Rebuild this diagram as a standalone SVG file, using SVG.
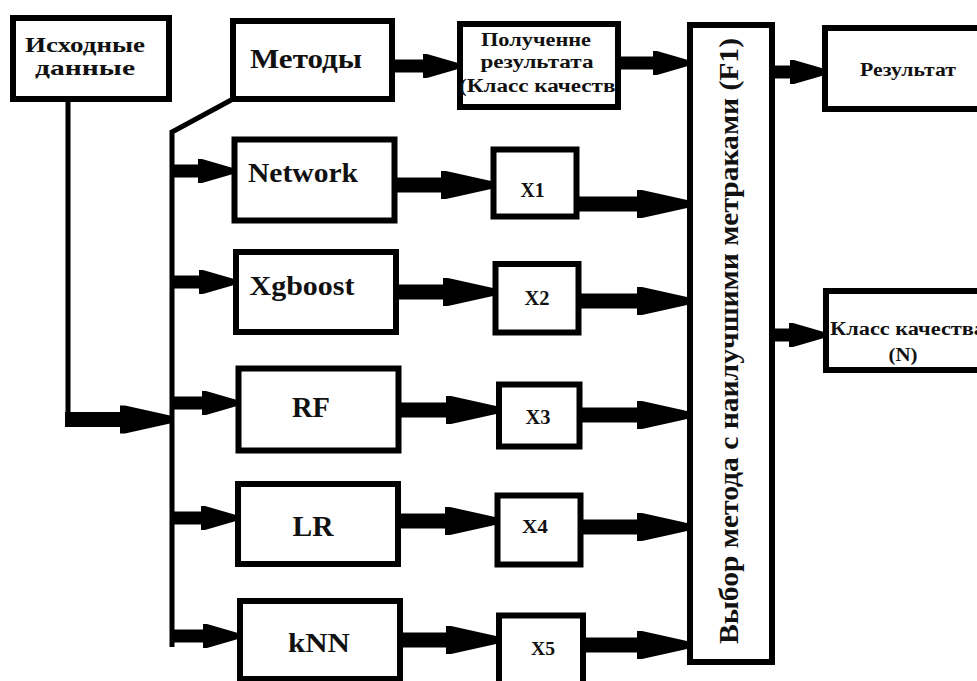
<svg xmlns="http://www.w3.org/2000/svg" width="977" height="681" viewBox="0 0 977 681">
<style>
.box{fill:#fff;stroke:#000;stroke-width:6}
.t{font-family:"Liberation Serif","DejaVu Serif","Times New Roman",serif;font-weight:bold;fill:#111}
.wire{stroke:#000;fill:none;stroke-width:5}
.ab{stroke:#000;stroke-width:15;fill:none;marker-end:url(#hb)}
.as{stroke:#000;stroke-width:13;fill:none;marker-end:url(#hs)}
</style>
<defs>
<marker id="hb" markerUnits="userSpaceOnUse" markerWidth="50" markerHeight="30" viewBox="0 -15 50 30" refX="0" refY="0" orient="auto">
<path d="M0,-14 L5,-14 L50,-4 L50,4 L5,14 L0,14 Z" fill="#000"/>
</marker>
<marker id="hs" markerUnits="userSpaceOnUse" markerWidth="35" markerHeight="26" viewBox="0 -13 35 26" refX="0" refY="0" orient="auto">
<path d="M0,-12 L4,-12 L35,-3 L35,3 L4,12 L0,12 Z" fill="#000"/>
</marker>
<clipPath id="clipP"><rect x="460" y="24" width="156" height="83"/></clipPath>
</defs>
<rect width="977" height="681" fill="#fff"/>

<g id="connectors">
<path class="wire" d="M68,101 V413"/>
<path class="wire" d="M233,99 L172,132 V647"/>
<line class="ab" x1="65" y1="419.5" x2="120" y2="419.5"/>
<line class="as" x1="172" y1="171" x2="198" y2="171"/>
<line class="as" x1="172" y1="282" x2="199" y2="282"/>
<line class="as" x1="172" y1="403" x2="202" y2="403"/>
<line class="as" x1="172" y1="518" x2="201" y2="518"/>
<line class="as" x1="172" y1="636" x2="203" y2="636"/>
<line class="as" x1="393" y1="66" x2="423" y2="66"/>
<line class="as" x1="619" y1="63" x2="653" y2="63"/>
<line class="as" x1="773" y1="72" x2="790" y2="72"/>
<line class="as" x1="773" y1="335" x2="789" y2="335"/>
<line class="ab" x1="395" y1="185" x2="441" y2="185"/>
<line class="ab" x1="397" y1="292" x2="443" y2="292"/>
<line class="ab" x1="399" y1="410" x2="446" y2="410"/>
<line class="ab" x1="399" y1="521" x2="445" y2="521"/>
<line class="ab" x1="401" y1="640" x2="446" y2="640"/>
<line class="ab" x1="577" y1="204" x2="637" y2="204"/>
<line class="ab" x1="579" y1="301" x2="637" y2="301"/>
<line class="ab" x1="580" y1="415" x2="637" y2="415"/>
<line class="ab" x1="581" y1="527" x2="637" y2="527"/>
<line class="ab" x1="583" y1="645" x2="637" y2="645"/>
</g>

<g id="source">
<rect class="box" x="13" y="18" width="156" height="81"/>
<text class="t" x="85" y="52" font-size="22" text-anchor="middle" textLength="120" lengthAdjust="spacingAndGlyphs">Исходные</text>
<text class="t" x="85" y="75" font-size="22" text-anchor="middle" textLength="100" lengthAdjust="spacingAndGlyphs">данные</text>
</g>

<g id="methods">
<rect class="box" x="233" y="21" width="159" height="78"/>
<text class="t" x="306" y="68" font-size="27" text-anchor="middle" textLength="112" lengthAdjust="spacingAndGlyphs">Методы</text>
</g>

<g id="getresult">
<rect class="box" x="460" y="24" width="158" height="83"/>
<text class="t" x="536" y="46" font-size="18" text-anchor="middle" textLength="110" lengthAdjust="spacingAndGlyphs">Полученне</text>
<text class="t" x="537" y="68" font-size="18" text-anchor="middle" textLength="113" lengthAdjust="spacingAndGlyphs">результата</text>
<text class="t" x="459" y="92" font-size="18" textLength="168" lengthAdjust="spacingAndGlyphs" clip-path="url(#clipP)">(Класс качества</text>
</g>

<g id="network">
<rect class="box" x="234.5" y="139.5" width="160" height="81"/>
<text class="t" x="303" y="182" font-size="28" text-anchor="middle" textLength="110" lengthAdjust="spacingAndGlyphs">Network</text>
</g>
<g id="xgboost">
<rect class="box" x="236" y="252" width="160" height="80"/>
<text class="t" x="302" y="295" font-size="28" text-anchor="middle" textLength="105" lengthAdjust="spacingAndGlyphs">Xgboost</text>
</g>
<g id="rf">
<rect class="box" x="238.5" y="368.5" width="160" height="82"/>
<text class="t" x="311" y="417" font-size="29" text-anchor="middle" textLength="38" lengthAdjust="spacingAndGlyphs">RF</text>
</g>
<g id="lr">
<rect class="box" x="238" y="484" width="160" height="80"/>
<text class="t" x="313" y="536" font-size="29" text-anchor="middle" textLength="41" lengthAdjust="spacingAndGlyphs">LR</text>
</g>
<g id="knn">
<rect class="box" x="240" y="601" width="160" height="78"/>
<text class="t" x="319" y="652" font-size="28" text-anchor="middle" textLength="62" lengthAdjust="spacingAndGlyphs">kNN</text>
</g>

<g id="x1">
<rect class="box" x="493.5" y="149.5" width="83" height="67"/>
<text class="t" x="532.5" y="197" font-size="20" text-anchor="middle" textLength="24" lengthAdjust="spacingAndGlyphs">X1</text>
</g>
<g id="x2">
<rect class="box" x="495.5" y="264" width="83" height="68.5"/>
<text class="t" x="537" y="305" font-size="20" text-anchor="middle" textLength="25" lengthAdjust="spacingAndGlyphs">X2</text>
</g>
<g id="x3">
<rect class="box" x="499" y="384.5" width="80.5" height="62"/>
<text class="t" x="538" y="424" font-size="20" text-anchor="middle" textLength="25" lengthAdjust="spacingAndGlyphs">X3</text>
</g>
<g id="x4">
<rect class="box" x="497.5" y="495.5" width="83" height="69"/>
<text class="t" x="535" y="533" font-size="19" text-anchor="middle" textLength="26" lengthAdjust="spacingAndGlyphs">X4</text>
</g>
<g id="x5">
<rect class="box" x="499" y="615.5" width="84" height="70"/>
<text class="t" x="543" y="655" font-size="19" text-anchor="middle" textLength="24" lengthAdjust="spacingAndGlyphs">X5</text>
</g>

<g id="select">
<rect class="box" x="690" y="25" width="82" height="637"/>
<line x1="689" y1="22" x2="689" y2="665" stroke="#000" stroke-width="4"/>
<text class="t" transform="translate(738,341) rotate(-90)" font-size="27" text-anchor="middle" textLength="606" lengthAdjust="spacingAndGlyphs">Выбор метода с наилучшими метраками (F1)</text>
</g>

<g id="result">
<rect class="box" x="825" y="28" width="200" height="81"/>
<text class="t" x="860" y="76" font-size="18" textLength="96" lengthAdjust="spacingAndGlyphs">Результат</text>
</g>

<g id="quality">
<rect class="box" x="826" y="291" width="200" height="79"/>
<text class="t" x="830" y="335" font-size="18" textLength="155" lengthAdjust="spacingAndGlyphs">Класс качества</text>
<text class="t" x="903" y="361" font-size="18" text-anchor="middle" textLength="29" lengthAdjust="spacingAndGlyphs">(N)</text>
</g>
</svg>
